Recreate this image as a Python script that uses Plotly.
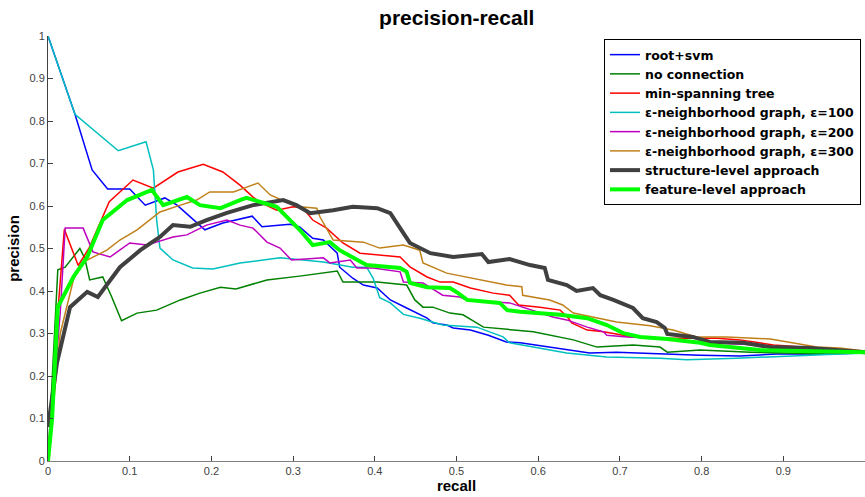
import plotly.graph_objects as go

# ---------------- data ----------------
names = [
    "root+svm",
    "no connection",
    "min-spanning tree",
    "ε-neighborhood graph, ε=100",
    "ε-neighborhood graph, ε=200",
    "ε-neighborhood graph, ε=300",
    "structure-level approach",
    "feature-level approach",
]

root_svm_recall = [0, 0.033, 0.054, 0.073, 0.1, 0.119, 0.143, 0.158, 0.192, 0.214, 0.25, 0.262, 0.296, 0.308, 0.324, 0.337, 0.354, 0.357, 0.373, 0.386, 0.403, 0.419, 0.439, 0.464, 0.471, 0.488, 0.496, 0.517, 0.539, 0.561, 0.578, 0.614, 0.663, 0.696, 0.75, 0.798, 0.847, 0.892, 0.95, 1.0]
root_svm_precision = [1.0, 0.816, 0.685, 0.64, 0.64, 0.602, 0.619, 0.602, 0.544, 0.56, 0.576, 0.551, 0.557, 0.551, 0.524, 0.52, 0.489, 0.456, 0.43, 0.414, 0.407, 0.379, 0.36, 0.336, 0.325, 0.32, 0.313, 0.308, 0.296, 0.28, 0.278, 0.268, 0.254, 0.256, 0.252, 0.249, 0.247, 0.252, 0.252, 0.254]

noconn_recall = [0, 0.012, 0.021, 0.039, 0.045, 0.051, 0.067, 0.078, 0.09, 0.109, 0.133, 0.162, 0.186, 0.211, 0.23, 0.268, 0.308, 0.349, 0.354, 0.361, 0.403, 0.439, 0.449, 0.459, 0.471, 0.492, 0.508, 0.533, 0.594, 0.643, 0.672, 0.716, 0.749, 0.758, 0.798, 0.86, 0.953, 1.0]
noconn_precision = [0, 0.45, 0.456, 0.5, 0.477, 0.426, 0.433, 0.386, 0.33, 0.348, 0.355, 0.379, 0.395, 0.409, 0.405, 0.426, 0.435, 0.445, 0.447, 0.421, 0.421, 0.414, 0.379, 0.362, 0.362, 0.348, 0.344, 0.315, 0.304, 0.285, 0.268, 0.273, 0.268, 0.256, 0.261, 0.256, 0.252, 0.256]

mst_recall = [0, 0.01, 0.02, 0.037, 0.05, 0.075, 0.104, 0.129, 0.159, 0.19, 0.214, 0.235, 0.251, 0.259, 0.28, 0.3, 0.312, 0.324, 0.341, 0.361, 0.382, 0.431, 0.443, 0.464, 0.48, 0.496, 0.517, 0.545, 0.565, 0.576, 0.602, 0.627, 0.637, 0.641, 0.66, 0.68, 0.716, 0.758, 0.819, 0.847, 0.871, 0.888, 0.94, 1.0]
mst_precision = [0, 0.3, 0.545, 0.46, 0.5, 0.61, 0.661, 0.642, 0.68, 0.698, 0.68, 0.649, 0.621, 0.609, 0.59, 0.598, 0.595, 0.567, 0.548, 0.513, 0.489, 0.48, 0.457, 0.433, 0.421, 0.421, 0.407, 0.395, 0.39, 0.367, 0.362, 0.355, 0.336, 0.325, 0.308, 0.304, 0.292, 0.289, 0.289, 0.285, 0.278, 0.273, 0.266, 0.256]

eps100_recall = [0, 0.033, 0.086, 0.12, 0.129, 0.133, 0.137, 0.153, 0.177, 0.202, 0.235, 0.284, 0.337, 0.373, 0.39, 0.398, 0.406, 0.419, 0.435, 0.455, 0.483, 0.525, 0.557, 0.565, 0.635, 0.684, 0.749, 0.782, 0.843, 0.912, 1.0]
eps100_precision = [1.0, 0.816, 0.73, 0.751, 0.685, 0.567, 0.501, 0.473, 0.454, 0.452, 0.466, 0.478, 0.468, 0.456, 0.456, 0.43, 0.384, 0.372, 0.345, 0.336, 0.32, 0.315, 0.292, 0.278, 0.254, 0.245, 0.242, 0.238, 0.242, 0.247, 0.254]

eps200_recall = [0, 0.015, 0.021, 0.043, 0.055, 0.076, 0.1, 0.121, 0.153, 0.17, 0.194, 0.219, 0.235, 0.251, 0.268, 0.284, 0.298, 0.337, 0.345, 0.37, 0.378, 0.398, 0.431, 0.435, 0.459, 0.477, 0.483, 0.504, 0.513, 0.565, 0.618, 0.635, 0.66, 0.68, 0.684, 0.709, 0.749, 0.789, 0.871, 0.936, 1.0]
eps200_precision = [0, 0.35, 0.548, 0.548, 0.492, 0.48, 0.513, 0.508, 0.527, 0.532, 0.555, 0.567, 0.555, 0.548, 0.515, 0.501, 0.473, 0.478, 0.466, 0.473, 0.454, 0.454, 0.445, 0.421, 0.419, 0.398, 0.39, 0.386, 0.379, 0.372, 0.339, 0.332, 0.315, 0.304, 0.296, 0.292, 0.289, 0.28, 0.273, 0.256, 0.254]

eps300_recall = [0, 0.015, 0.031, 0.043, 0.072, 0.088, 0.109, 0.137, 0.162, 0.182, 0.198, 0.227, 0.257, 0.272, 0.292, 0.308, 0.329, 0.333, 0.349, 0.386, 0.406, 0.435, 0.455, 0.459, 0.488, 0.529, 0.561, 0.58, 0.581, 0.614, 0.63, 0.643, 0.667, 0.696, 0.737, 0.765, 0.794, 0.831, 0.884, 0.912, 0.941, 0.969, 1.0]
eps300_precision = [0, 0.3, 0.426, 0.468, 0.496, 0.52, 0.544, 0.586, 0.602, 0.614, 0.633, 0.633, 0.654, 0.626, 0.609, 0.598, 0.595, 0.574, 0.52, 0.515, 0.501, 0.508, 0.496, 0.466, 0.442, 0.426, 0.414, 0.41, 0.39, 0.379, 0.367, 0.348, 0.339, 0.327, 0.318, 0.308, 0.292, 0.292, 0.287, 0.278, 0.268, 0.266, 0.259]

structure_recall = [0, 0.011, 0.027, 0.048, 0.061, 0.088, 0.113, 0.137, 0.153, 0.174, 0.194, 0.219, 0.251, 0.288, 0.304, 0.321, 0.349, 0.373, 0.403, 0.419, 0.435, 0.443, 0.468, 0.496, 0.531, 0.539, 0.565, 0.59, 0.608, 0.612, 0.635, 0.647, 0.667, 0.676, 0.692, 0.716, 0.728, 0.745, 0.755, 0.758, 0.789, 0.81, 0.851, 0.884, 0.933, 0.961, 1.0]
structure_precision = [0.08, 0.231, 0.362, 0.398, 0.386, 0.456, 0.496, 0.527, 0.555, 0.551, 0.567, 0.584, 0.602, 0.614, 0.602, 0.583, 0.59, 0.598, 0.595, 0.583, 0.536, 0.513, 0.489, 0.48, 0.487, 0.468, 0.475, 0.461, 0.454, 0.426, 0.414, 0.4, 0.407, 0.39, 0.379, 0.36, 0.336, 0.327, 0.313, 0.299, 0.292, 0.28, 0.278, 0.268, 0.266, 0.261, 0.256]

feature_recall = [0, 0.005, 0.012, 0.031, 0.048, 0.067, 0.097, 0.127, 0.141, 0.17, 0.186, 0.211, 0.235, 0.243, 0.28, 0.292, 0.308, 0.324, 0.345, 0.357, 0.373, 0.39, 0.431, 0.439, 0.443, 0.464, 0.492, 0.502, 0.513, 0.537, 0.553, 0.562, 0.578, 0.627, 0.66, 0.684, 0.704, 0.725, 0.758, 0.798, 0.81, 0.871, 1.0]
feature_precision = [0, 0.1, 0.362, 0.433, 0.48, 0.567, 0.614, 0.638, 0.602, 0.621, 0.602, 0.595, 0.614, 0.619, 0.598, 0.574, 0.544, 0.508, 0.515, 0.496, 0.478, 0.461, 0.454, 0.445, 0.419, 0.409, 0.407, 0.395, 0.379, 0.374, 0.372, 0.355, 0.351, 0.344, 0.336, 0.32, 0.301, 0.292, 0.287, 0.278, 0.273, 0.261, 0.256]

tick_values = [0, 0.1, 0.2, 0.3, 0.4, 0.5, 0.6, 0.7, 0.8, 0.9, 1]
tick_labels = ["0", "0.1", "0.2", "0.3", "0.4", "0.5", "0.6", "0.7", "0.8", "0.9", "1"]

# ---------------- styling ----------------
series = [
    (root_svm_recall, root_svm_precision, "#0000FF", 1.5),
    (noconn_recall, noconn_precision, "#008000", 1.5),
    (mst_recall, mst_precision, "#FF0000", 1.5),
    (eps100_recall, eps100_precision, "#00BFBF", 1.5),
    (eps200_recall, eps200_precision, "#BF00BF", 1.5),
    (eps300_recall, eps300_precision, "#C0801A", 1.5),
    (structure_recall, structure_precision, "#404040", 4),
    (feature_recall, feature_precision, "#00FF00", 4),
]

fig = go.Figure()
for name, (xs, ys, color, width) in zip(names, series):
    fig.add_trace(go.Scatter(x=xs, y=ys, mode="lines", name="<b>" + name + "</b>",
                             line=dict(color=color, width=width)))

axis_common = dict(
    range=[0, 1], tickmode="array", tickvals=tick_values, ticktext=tick_labels,
    ticks="inside", ticklen=5, tickwidth=1, tickcolor="#404040",
    showgrid=False, zeroline=False, showline=True, linewidth=1,
    tickfont=dict(family="Liberation Sans, Arial, sans-serif", size=11, color="#404040"),
)

fig.update_layout(
    width=865, height=497,
    margin=dict(l=48, r=0, t=36, b=36, autoexpand=False),
    paper_bgcolor="white", plot_bgcolor="white",
    title=dict(text="<b>precision-recall</b>", x=0.528, xanchor="center",
               y=1 - 18 / 497, yanchor="middle", yref="container",
               font=dict(family="Liberation Sans, Arial, sans-serif", size=21, color="black")),
    xaxis=dict(**axis_common, linecolor="#808080",
               title=dict(text="<b>recall</b>", standoff=2,
                          font=dict(family="Liberation Sans, Arial, sans-serif", size=15, color="black"))),
    yaxis=dict(**axis_common, linecolor="#404040",
               title=dict(text="<b>precision</b>", standoff=6,
                          font=dict(family="Liberation Sans, Arial, sans-serif", size=15, color="black"))),
    legend=dict(x=(604 - 48) / 817, y=(461 - 39) / 425, xanchor="left", yanchor="top",
                bgcolor="white", bordercolor="black", borderwidth=1,
                font=dict(family="DejaVu Sans, Arial, sans-serif", size=12.5, color="black"),
                itemwidth=30, tracegroupgap=0),
    showlegend=True,
)

fig.write_html("out.html", config={"displayModeBar": False},
               post_script="document.body.style.margin='0';document.body.style.overflow='hidden';")
